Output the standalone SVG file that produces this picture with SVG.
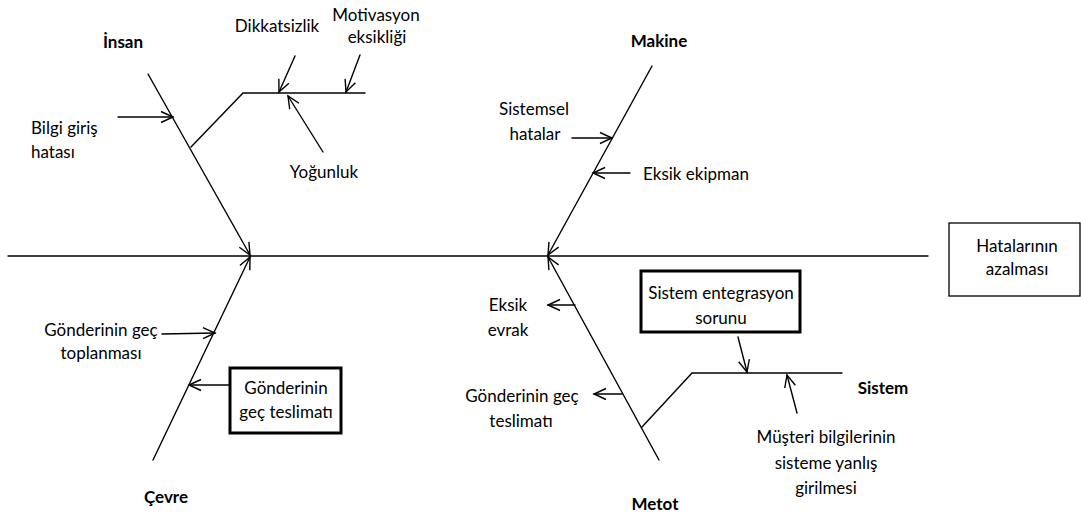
<svg xmlns="http://www.w3.org/2000/svg" width="1081" height="520" viewBox="0 0 1081 520">
  <style>
    .t { font-family: Lato, "Liberation Sans", sans-serif; font-size: 17px; fill: #000; text-anchor: middle; }
    .b { font-weight: bold; }
    .s { text-anchor: start; }
    .ln { fill: none; stroke: #000; stroke-width: 1.4; stroke-linecap: round; }
    .box { fill: #fff; stroke: #000; }
  </style>
  <defs>
    <marker id="arr" viewBox="-14 -7 16 14" refX="0" refY="0" markerWidth="16" markerHeight="14" markerUnits="userSpaceOnUse" orient="auto">
      <path d="M-12,-5.5 L0,0 L-12,5.5" fill="none" stroke="#000" stroke-width="1.4"/>
    </marker>
  </defs>
  <rect width="1081" height="520" fill="#fff"/>

  <!-- spine, bones and cause arrows -->
  <g id="connectors" class="ln">
    <path d="M8,256 H928"/>
    <path d="M148,74 L250,255" marker-end="url(#arr)"/>
    <path d="M652,66 L548,255" marker-end="url(#arr)"/>
    <path d="M153,460 L250,257" marker-end="url(#arr)"/>
    <path d="M659,460 L548,257" marker-end="url(#arr)"/>
    <path d="M191,147 L243,93 H365"/>
    <path d="M642,427 L692,373 H842"/>
    <path d="M118,117 H173" marker-end="url(#arr)"/>
    <path d="M295,56 L279,92" marker-end="url(#arr)"/>
    <path d="M360,55 L346,92" marker-end="url(#arr)"/>
    <path d="M323,152 L288,96" marker-end="url(#arr)"/>
    <path d="M572,138 H612" marker-end="url(#arr)"/>
    <path d="M630,173 H593" marker-end="url(#arr)"/>
    <path d="M162,334 L215,333" marker-end="url(#arr)"/>
    <path d="M230,385 H189" marker-end="url(#arr)"/>
    <path d="M575,305 H548" marker-end="url(#arr)"/>
    <path d="M622,394 H594" marker-end="url(#arr)"/>
    <path d="M738,337 L747,372" marker-end="url(#arr)"/>
    <path d="M797,413 L787,375" marker-end="url(#arr)"/>
  </g>

  <g id="effect">
    <rect class="box" x="949" y="223" width="131" height="73" stroke-width="1.3"/>
    <text class="t" x="1017" y="252">Hatalarının</text>
    <text class="t" x="1017" y="275">azalması</text>
  </g>

  <g id="insan">
    <text class="t b" x="123" y="48">İnsan</text>
  </g>
  <g id="bilgi-giris">
    <text class="t s" x="31" y="134">Bilgi giriş</text>
    <text class="t s" x="31" y="158">hatası</text>
  </g>
  <g id="dikkatsizlik">
    <text class="t" x="277" y="32">Dikkatsizlik</text>
  </g>
  <g id="motivasyon">
    <text class="t" x="376" y="21">Motivasyon</text>
    <text class="t" x="377" y="43">eksikliği</text>
  </g>
  <g id="yogunluk">
    <text class="t" x="324" y="178">Yoğunluk</text>
  </g>

  <g id="makine">
    <text class="t b" x="659" y="47">Makine</text>
  </g>
  <g id="sistemsel">
    <text class="t" x="534" y="115">Sistemsel</text>
    <text class="t" x="535" y="140">hatalar</text>
  </g>
  <g id="eksik-ekipman">
    <text class="t s" x="643" y="180">Eksik ekipman</text>
  </g>

  <g id="cevre">
    <text class="t b" x="166" y="503">Çevre</text>
  </g>
  <g id="gec-toplanma">
    <text class="t" x="101" y="336">Gönderinin geç</text>
    <text class="t" x="101" y="359">toplanması</text>
  </g>
  <g id="gec-teslimat-cevre">
    <rect class="box" x="230" y="368" width="111" height="65" stroke-width="3"/>
    <text class="t" x="286" y="394">Gönderinin</text>
    <text class="t" x="286" y="418">geç teslimatı</text>
  </g>

  <g id="metot">
    <text class="t b" x="655" y="510">Metot</text>
  </g>
  <g id="eksik-evrak">
    <text class="t" x="508" y="311">Eksik</text>
    <text class="t" x="508" y="336">evrak</text>
  </g>
  <g id="gec-teslimat-metot">
    <text class="t" x="522" y="402">Gönderinin geç</text>
    <text class="t" x="521" y="427">teslimatı</text>
  </g>

  <g id="sistem">
    <text class="t b" x="883" y="394">Sistem</text>
  </g>
  <g id="entegrasyon">
    <rect class="box" x="641" y="271" width="159" height="61" stroke-width="3"/>
    <text class="t" x="721" y="299">Sistem entegrasyon</text>
    <text class="t" x="721" y="324">sorunu</text>
  </g>
  <g id="musteri-bilgileri">
    <text class="t" x="826" y="443">Müşteri bilgilerinin</text>
    <text class="t" x="826" y="469">sisteme yanlış</text>
    <text class="t" x="826" y="494">girilmesi</text>
  </g>
</svg>
